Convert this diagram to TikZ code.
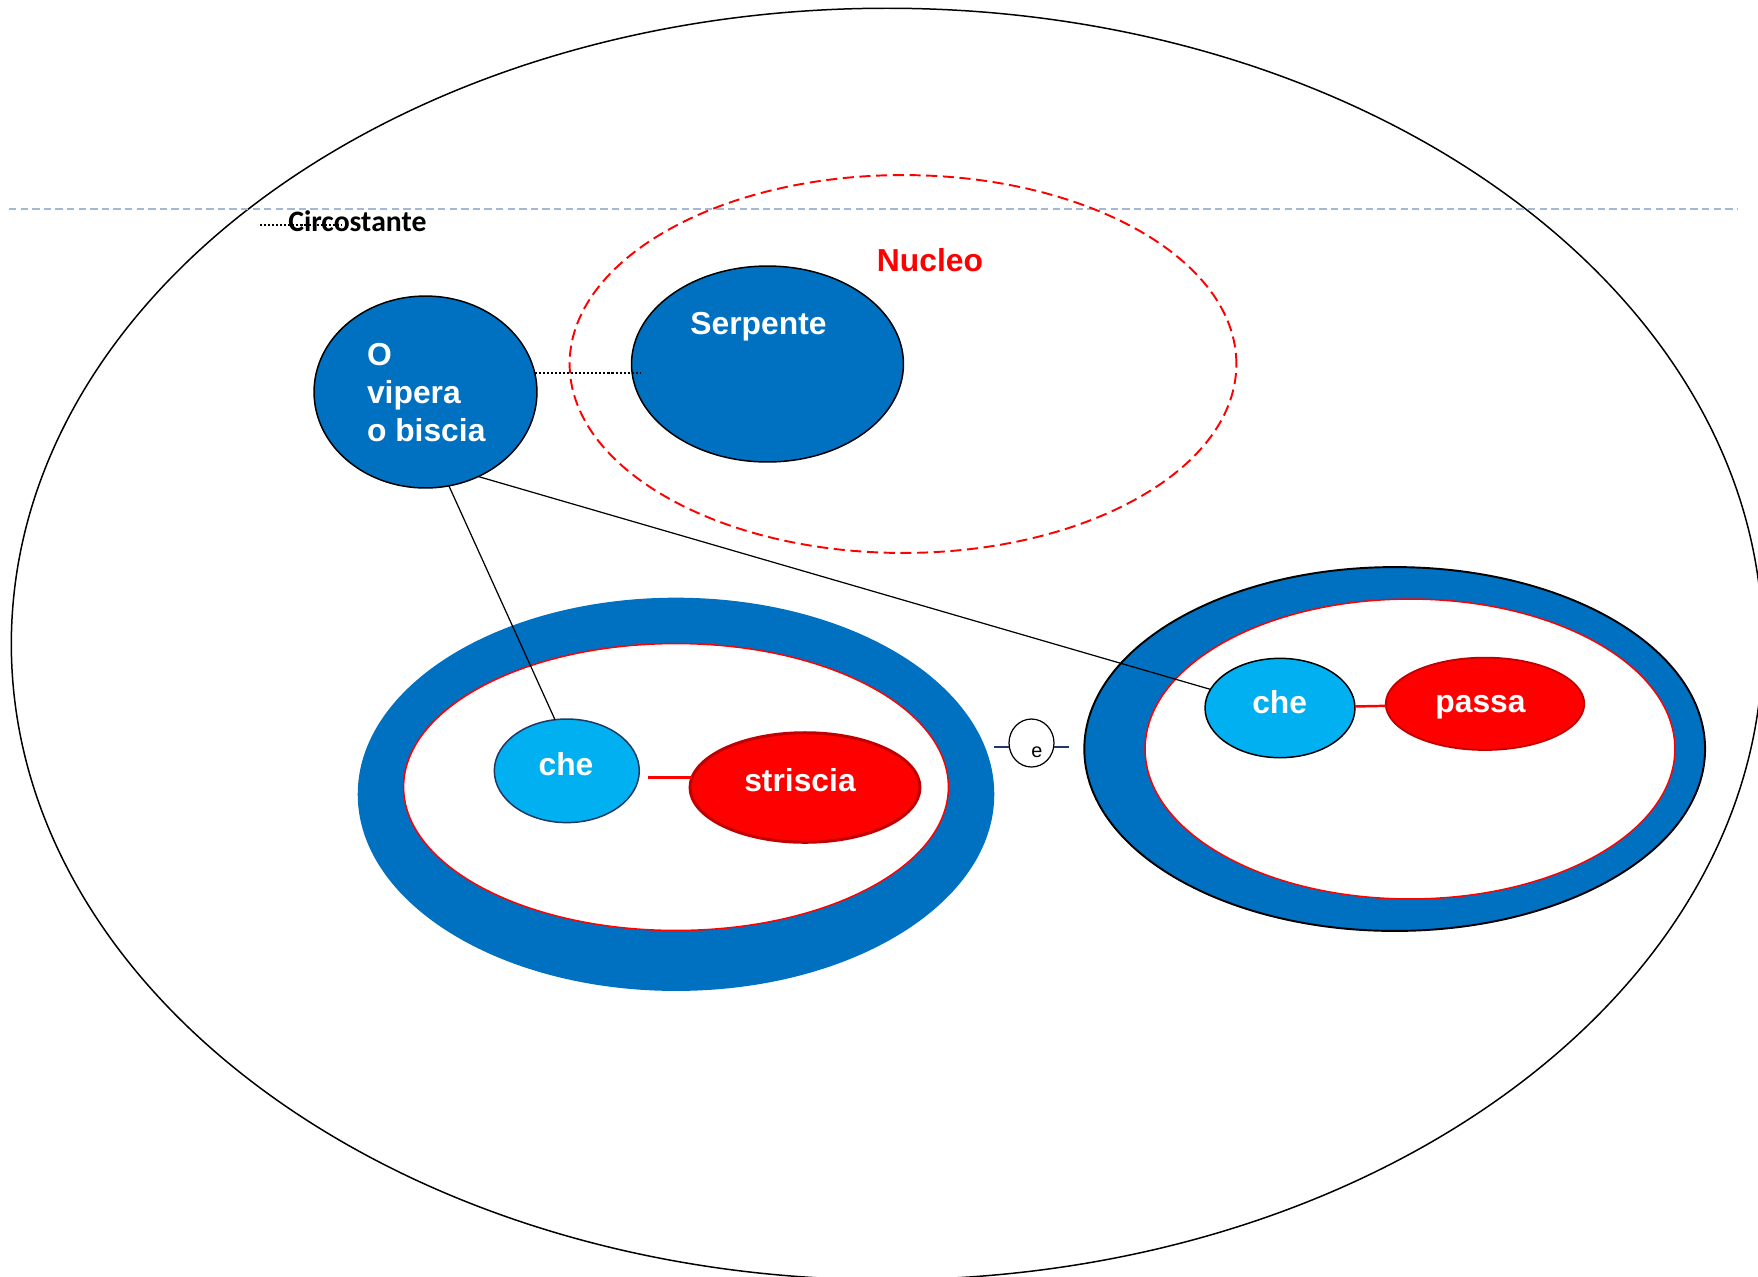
\documentclass[tikz,border=0pt]{standalone}
\usepackage{fontspec}
\setmainfont{Liberation Sans}
\newfontfamily\carlito{Carlito}
\usetikzlibrary{shapes.geometric}

\definecolor{ringblue}{HTML}{0070C0}
\definecolor{skyblue}{HTML}{00B0F0}
\definecolor{deepred}{HTML}{C00000}
\definecolor{navyedge}{HTML}{1F3864}
\definecolor{guideblue}{HTML}{A3B8D2}

\tikzset{
  % an ellipse given by its two radii in pixel units
  oval/.style 2 args={ellipse, inner sep=0pt, outer sep=0pt,
    minimum width={#1*0.04cm}, minimum height={#2*0.04cm}},
  wordtext/.style={font=\fontsize{18.1}{21.8}\selectfont\bfseries,
    text=white, anchor=base, inner sep=0pt},
  rim/.style={draw=black, line width=0.85pt},
  thinlink/.style={draw=black, line width=0.7pt},
  redlink/.style={draw=red, line width=1.4pt},
  navylink/.style={draw=navyedge, line width=0.9pt},
  dotlink/.style={draw=black, line width=1.2pt, dash pattern=on 1.2pt off 1.1pt},
}

\begin{document}
\begin{tikzpicture}[x=0.02cm, y=-0.02cm]
  \useasboundingbox (0,0) rectangle (1758,1276);
  \clip (0,0) rectangle (1758,1276);

  % whole sentence
  \node[oval={876}{636}, rim] (world) at (887,644) {};

  % horizontal guide
  \draw[draw=guideblue, line width=1.1pt, dash pattern=on 4.2pt off 2.4pt]
    (9,208.7) -- (1738,208.7);

  % circumstantial label
  \node[font=\fontsize{16.9}{19}\selectfont\carlito\bfseries, anchor=base west,
        inner sep=0pt] (circ) at (288,231.7) {Circostante};
  \coordinate (circtail) at (260,225);
  \draw[dotlink] (circtail) -- ++(82,0);

  % nucleus
  \node[oval={333.5}{189}, draw=red, line width=1.1pt,
        dash pattern=on 6.3pt off 3.2pt] (nucleus) at (903,364) {};
  \node[font=\fontsize{18.1}{21.8}\selectfont\bfseries, text=red, anchor=base,
        inner sep=0pt] (nuc) at (930,271) {Nucleo};

  % subject and its apposition
  \node[oval={111.5}{96}, fill=ringblue, rim] (snake) at (425.5,392) {};
  \node[wordtext, anchor=base west, align=left] (snaketext) at (366.7,441.7)
    {O\\vipera\\o biscia};
  \node[oval={136}{98}, fill=ringblue, rim] (serp) at (767.5,364) {};
  \node[wordtext] (serptext) at (758.5,334) {Serpente};
  \draw[dotlink, shorten >=-5] (snake.10) -- (serp.west |- snake.10);

  % left relative clause
  \node[oval={318.4}{196.7}, fill=ringblue] (ringL) at (676,794.3) {};
  \node[oval={272.5}{143.5}, fill=white, draw=red, line width=0.85pt] (innerL) at (676,787) {};

  % right relative clause
  \node[oval={310.5}{182}, fill=ringblue, draw=black, line width=1.1pt] (ringR) at (1394.7,749) {};
  \node[oval={265}{150}, fill=white, draw=red, line width=0.85pt] (innerR) at (1410,749) {};

  % coordinating conjunction
  \node[oval={22.5}{24}, fill=white, draw=black, line width=0.7pt] (conj) at (1031.5,743) {};
  \node[font=\fontsize{11.3}{13}\selectfont, anchor=base, inner sep=0pt] (conjtext) at (1037,757) {e};
  \draw[navylink] (ringL.east |- conj.190) -- (conj.190);
  \draw[navylink, shorten >=9] (conj.-10) -- (ringR.west |- conj.-10);

  % clause members
  \node[oval={72.5}{51.8}, fill=skyblue, draw=navyedge, line width=0.85pt] (che1) at (566.8,770.8) {};
  \node[wordtext] (che1text) at (566,775.7) {che};
  \node[oval={115}{54.8}, fill=red, draw=deepred, line width=1.7pt] (strisc) at (805,787.5) {};
  \node[wordtext] (strisctext) at (800,791) {striscia};
  \node[oval={75}{49.7}, fill=skyblue, draw=black, line width=0.85pt] (che2) at (1280,708) {};
  \node[wordtext] (che2text) at (1279.7,713.3) {che};
  \node[oval={99.3}{46.2}, fill=red, draw=deepred, line width=1pt] (passa) at (1485,703.8) {};
  \node[wordtext] (passatext) at (1480.5,712.7) {passa};

  % links
  \draw[thinlink] (snake.-76) -- (che1.103);
  \draw[thinlink] (snake.-58) -- (che2.165);
  \draw[redlink, shorten <=5] (che1.east |- strisc.175) -- (strisc.175);
  \draw[redlink] (che2) -- (passa);
\end{tikzpicture}
\end{document}
